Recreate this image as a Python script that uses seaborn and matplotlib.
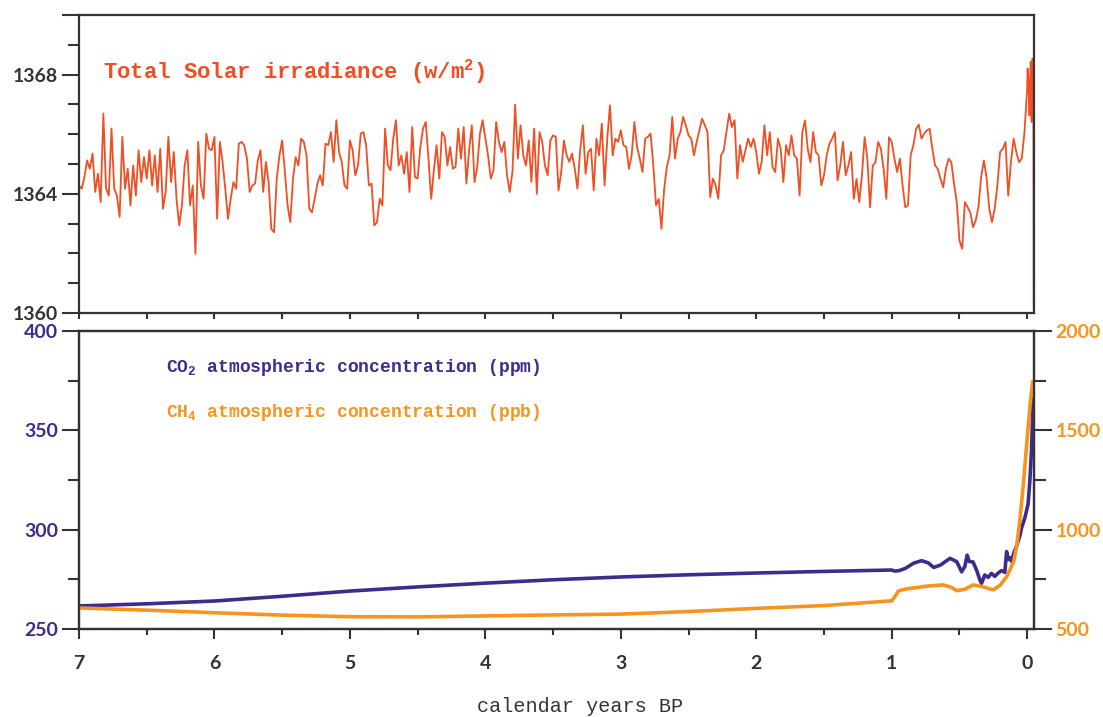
import numpy as np
import matplotlib
matplotlib.use("Agg")
import matplotlib.pyplot as plt
import seaborn as sns

# ---- data (kyr BP on x) ----
# total solar irradiance, 20-yr steps from 7.0 to 0.0 kyr BP, then the last few decades
sol_grid = np.round(7.0 - 0.02 * np.arange(351), 3)
sol_main = [
    1364.28, 1364.17, 1364.56, 1365.12, 1364.84, 1365.35, 1364.06, 1364.67, 1363.72, 1366.69,
    1364.17, 1363.94, 1366.19, 1364.17, 1363.94, 1363.22, 1365.91, 1364.17, 1364.84, 1363.61,
    1364.95, 1363.94, 1365.46, 1364.39, 1365.23, 1364.51, 1365.46, 1364.28, 1365.29, 1364.06,
    1365.51, 1363.50, 1364.06, 1365.91, 1364.39, 1365.40, 1363.83, 1362.94, 1363.61, 1364.95,
    1365.46, 1363.61, 1364.28, 1361.98, 1365.74, 1364.28, 1363.83, 1366.02, 1365.51, 1365.46,
    1365.91, 1363.16, 1365.74, 1365.07, 1364.17, 1363.16, 1363.83, 1364.39, 1364.17, 1365.68,
    1365.74, 1365.63, 1365.18, 1364.06, 1364.28, 1364.34, 1365.12, 1365.46, 1364.06, 1365.07,
    1364.39, 1362.82, 1362.71, 1364.51, 1365.29, 1365.79, 1364.73, 1363.61, 1363.05, 1364.51,
    1365.23, 1364.95, 1365.85, 1365.74, 1365.29, 1363.50, 1363.38, 1363.83, 1364.34, 1364.62,
    1364.28, 1365.68, 1365.63, 1366.07, 1365.07, 1366.47, 1365.40, 1365.07, 1364.28, 1364.17,
    1365.79, 1365.46, 1364.62, 1364.95, 1366.02, 1366.07, 1365.63, 1364.28, 1364.34, 1362.94,
    1363.05, 1363.83, 1363.61, 1366.19, 1364.95, 1364.79, 1365.85, 1366.47, 1364.95, 1365.29,
    1364.67, 1365.40, 1364.06, 1366.24, 1364.56, 1364.51, 1365.57, 1366.19, 1366.41, 1365.18,
    1363.83, 1364.79, 1365.63, 1364.51, 1366.07, 1365.91, 1364.95, 1365.57, 1364.84, 1364.90,
    1366.19, 1365.18, 1366.24, 1364.34, 1365.46, 1366.30, 1364.39, 1364.90, 1366.02, 1366.47,
    1365.85, 1365.29, 1364.51, 1364.79, 1366.41, 1365.74, 1365.40, 1365.74, 1364.62, 1364.06,
    1364.73, 1366.99, 1365.18, 1366.30, 1365.29, 1364.95, 1365.79, 1364.40, 1366.19, 1364.00,
    1366.07, 1365.74, 1364.95, 1364.62, 1365.79, 1365.96, 1365.91, 1364.11, 1364.73, 1365.79,
    1365.29, 1365.07, 1365.35, 1364.84, 1364.17, 1365.46, 1366.30, 1364.67, 1365.40, 1365.51,
    1364.11, 1365.85, 1365.29, 1366.35, 1364.28, 1365.85, 1366.97, 1365.29, 1365.85, 1365.74,
    1366.13, 1365.63, 1365.57, 1364.84, 1365.29, 1366.41, 1365.57, 1365.18, 1364.73, 1365.85,
    1365.91, 1366.02, 1364.95, 1363.61, 1363.83, 1362.82, 1364.17, 1364.90, 1365.29, 1366.58,
    1365.18, 1365.85, 1366.07, 1366.58, 1366.30, 1365.96, 1365.85, 1365.29, 1365.74, 1366.13,
    1366.52, 1366.30, 1366.07, 1363.89, 1364.51, 1364.28, 1363.83, 1365.29, 1365.46, 1366.07,
    1366.69, 1366.24, 1366.47, 1364.51, 1365.63, 1365.07, 1365.46, 1365.85, 1365.57, 1365.85,
    1365.40, 1364.67, 1365.07, 1366.30, 1365.29, 1366.07, 1364.90, 1364.73, 1365.85, 1365.51,
    1364.39, 1365.63, 1365.29, 1365.96, 1365.29, 1365.18, 1363.94, 1366.07, 1366.46, 1365.51,
    1365.06, 1366.07, 1365.40, 1365.29, 1364.28, 1364.62, 1365.29, 1365.68, 1365.85, 1366.07,
    1364.45, 1364.95, 1365.74, 1364.62, 1364.95, 1365.40, 1363.83, 1364.50, 1363.72, 1364.62,
    1365.90, 1365.18, 1363.55, 1364.95, 1365.06, 1365.74, 1365.51, 1364.84, 1363.83, 1365.90,
    1365.74, 1365.18, 1364.73, 1365.18, 1364.28, 1363.55, 1363.61, 1365.29, 1365.63, 1366.18,
    1366.32, 1365.85, 1366.02, 1366.13, 1366.18, 1365.51, 1364.95, 1364.84, 1364.50, 1364.22,
    1364.84, 1365.18, 1365.06, 1364.34, 1363.72, 1362.43, 1362.15, 1363.72, 1363.55, 1363.38,
    1362.88, 1363.10, 1363.55, 1364.56, 1365.12, 1364.56, 1363.50, 1363.05, 1363.50, 1364.28,
    1365.40, 1365.51, 1365.74, 1363.94, 1365.06, 1365.85, 1365.40, 1365.06, 1365.18, 1366.07,
    1367.53,
]
sol_tail_years = [-0.003, -0.010, -0.017, -0.025, -0.032, -0.040, -0.046, -0.048]
sol_tail = [1368.20, 1367.75, 1366.63, 1368.43, 1366.41, 1368.54, 1367.19, 1360.13]

sol_years = list(sol_grid) + sol_tail_years
sol_values = sol_main + sol_tail

# CO2 (ppm)
co2_years = [7.0, 6.5, 6.0, 5.5, 5.0, 4.5, 4.0, 3.5, 3.0, 2.5, 2.0, 1.5, 1.0, 0.98,
             0.95, 0.90, 0.84, 0.78, 0.73, 0.69, 0.64, 0.57, 0.52, 0.484, 0.46, 0.443,
             0.428, 0.40, 0.374, 0.349, 0.337, 0.313, 0.288, 0.263, 0.239, 0.214, 0.19,
             0.165, 0.152, 0.14, 0.128, 0.115, 0.10, 0.077, 0.054, 0.041, 0.017, -0.007,
             -0.02, -0.032, -0.044]
co2_values = [261.6, 262.7, 264.1, 266.5, 269.1, 271.2, 273.1, 274.8, 276.2, 277.3, 278.2,
              279.0, 279.7, 279.2, 279.3, 280.5, 283.1, 284.4, 283.3, 281.0, 282.2, 285.6,
              283.9, 278.8, 281.5, 287.2, 284.0, 283.8, 279.7, 274.7, 273.0, 277.2, 276.0,
              278.0, 276.5, 278.2, 279.4, 278.5, 289.0, 285.0, 286.0, 284.0, 288.0, 292.0,
              297.0, 301.0, 306.0, 313.0, 325.0, 340.0, 366.0]

# CH4 (ppb)
ch4_years = [7.0, 6.5, 6.0, 5.5, 5.0, 4.5, 4.0, 3.5, 3.0, 2.5, 2.0, 1.5, 1.0, 0.98, 0.95,
             0.89, 0.80, 0.74, 0.62, 0.56, 0.52, 0.46, 0.40, 0.34, 0.25, 0.20, 0.152,
             0.128, 0.10, 0.078, 0.054, 0.03, 0.005, -0.02, -0.04]
ch4_values = [606, 595, 582, 570, 562, 561, 566, 571, 575, 588, 604, 618, 642, 660, 692,
              702, 710, 716, 722, 710, 693, 700, 722, 715, 697, 720, 763, 797, 839, 914,
              1049, 1216, 1418, 1619, 1745]

x_ticks = [7, 6, 5, 4, 3, 2, 1, 0]
x_minor = [6.5, 5.5, 4.5, 3.5, 2.5, 1.5, 0.5]

SOLAR = "#F04E23"
CO2 = "#3F2B8E"
CH4 = "#F7941D"
DARK = "#333333"
TICK_SIZE = 14

sns.set_style("ticks")
plt.rcParams["font.family"] = ["Lato", "DejaVu Sans"]
plt.rcParams["mathtext.fontset"] = "custom"
plt.rcParams["mathtext.rm"] = "Liberation Mono:bold"
plt.rcParams["mathtext.bf"] = "Liberation Mono:bold"

fig = plt.figure(figsize=(11.03, 7.17), dpi=100)
ax_top = fig.add_axes([0.0716, 0.5635, 0.8658, 0.4156])
ax_bot = fig.add_axes([0.0716, 0.1227, 0.8658, 0.4156])
ax_ch4 = ax_bot.twinx()

sns.lineplot(x=sol_years, y=sol_values, ax=ax_top, color=SOLAR, linewidth=1.3,
             estimator=None, sort=False)
sns.lineplot(x=co2_years, y=co2_values, ax=ax_bot, color=CO2, linewidth=2.6,
             estimator=None, sort=False)
sns.lineplot(x=ch4_years, y=ch4_values, ax=ax_ch4, color=CH4, linewidth=2.6,
             estimator=None, sort=False)

for ax in (ax_top, ax_bot, ax_ch4):
    ax.set_xlim(7, -0.05)
    ax.set_xlabel("")
    ax.set_ylabel("")
    for sp in ax.spines.values():
        sp.set_color(DARK)
        sp.set_linewidth(1.6)

# top panel
ax_top.set_ylim(1360, 1370)
ax_top.set_yticks([1360, 1364, 1368, 1370])
ax_top.set_yticklabels(["1360", "1364", "1368", ""])
ax_top.set_yticks([1361, 1362, 1363, 1365, 1366, 1367, 1369], minor=True)
ax_top.set_xticks(x_ticks)
ax_top.set_xticks(x_minor, minor=True)
ax_top.tick_params(axis="x", which="both", direction="out", length=4, width=1.5,
                   color=DARK, labelbottom=False)
ax_top.tick_params(axis="y", which="major", direction="out", length=12, width=1.5,
                   color=DARK, labelcolor=DARK, labelsize=TICK_SIZE, pad=3)
ax_top.tick_params(axis="y", which="minor", direction="out", length=8, width=1.5, color=DARK)

# bottom panel
ax_bot.set_ylim(250, 400)
ax_bot.set_yticks([250, 300, 350, 400])
ax_bot.set_yticks([275, 325, 375], minor=True)
ax_ch4.set_ylim(500, 2000)
ax_ch4.set_yticks([500, 1000, 1500, 2000])
ax_ch4.set_yticks([750, 1250, 1750], minor=True)
ax_bot.set_xticks(x_ticks)
ax_bot.set_xticklabels([str(t) for t in x_ticks])
ax_bot.set_xticks(x_minor, minor=True)
ax_bot.tick_params(axis="x", which="major", direction="out", length=7, width=1.5,
                   color=DARK, labelcolor=DARK, labelsize=TICK_SIZE, pad=12)
ax_bot.tick_params(axis="x", which="minor", direction="out", length=4.5, width=1.5, color=DARK)
ax_bot.tick_params(axis="y", which="major", direction="out", length=12, width=1.5,
                   color=DARK, labelcolor=CO2, labelsize=TICK_SIZE, pad=3)
ax_bot.tick_params(axis="y", which="minor", direction="out", length=8, width=1.5, color=DARK)
ax_ch4.tick_params(axis="y", which="major", direction="out", length=13, width=1.5,
                   color=DARK, labelcolor=CH4, labelsize=TICK_SIZE, pad=2.5)
ax_ch4.tick_params(axis="y", which="minor", direction="out", length=8.5, width=1.5, color=DARK)

for ax in (ax_top, ax_bot, ax_ch4):
    plt.setp(ax.get_yticklabels(), fontweight="bold")
plt.setp(ax_bot.get_xticklabels(), fontweight="bold")

ax_top.text(0.025, 0.81, r"Total Solar irradiance (w/m$^{\mathbf{2}}$)",
            transform=ax_top.transAxes, color=SOLAR, fontsize=16,
            family="Liberation Mono", fontweight="bold", va="center")
ax_bot.text(0.091, 0.876, r"CO$_{\mathbf{2}}$ atmospheric concentration (ppm)",
            transform=ax_bot.transAxes, color=CO2, fontsize=13,
            family="Liberation Mono", fontweight="bold", va="center")
ax_bot.text(0.091, 0.725, r"CH$_{\mathbf{4}}$ atmospheric concentration (ppb)",
            transform=ax_bot.transAxes, color=CH4, fontsize=13,
            family="Liberation Mono", fontweight="bold", va="center")

fig.text(0.526, 0.014, "calendar years BP", ha="center", va="center",
         family="Liberation Mono", fontsize=14.5, color=DARK)

fig.savefig("out.png", dpi=100)
plt.close(fig)
